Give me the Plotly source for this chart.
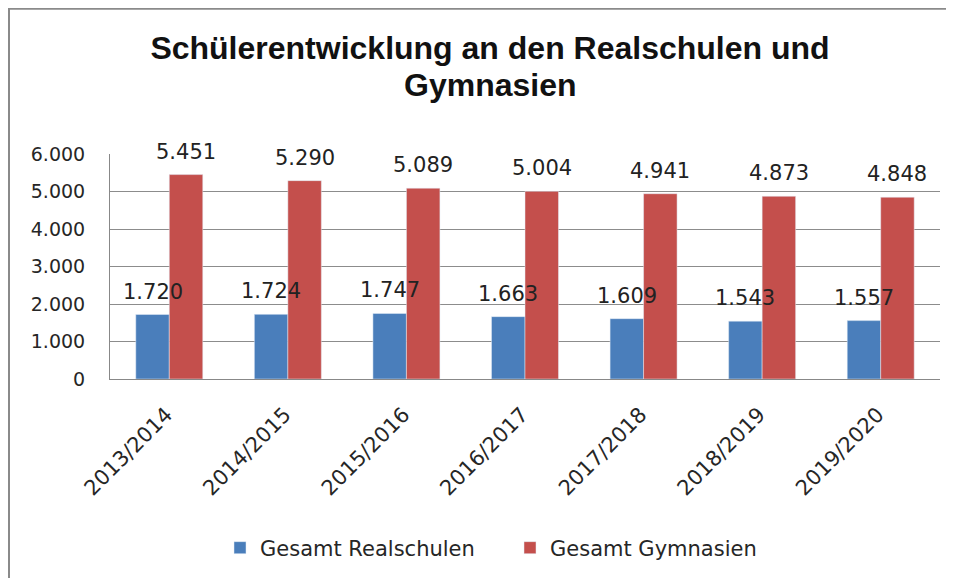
import plotly.graph_objects as go

categories = ["2013/2014", "2014/2015", "2015/2016", "2016/2017", "2017/2018", "2018/2019", "2019/2020"]
realschulen = [1720, 1724, 1747, 1663, 1609, 1543, 1557]
gymnasien = [5451, 5290, 5089, 5004, 4941, 4873, 4848]
series_names = ["Gesamt Realschulen", "Gesamt Gymnasien"]
y_ticks = [0, 1000, 2000, 3000, 4000, 5000, 6000]
title_lines = ["Schülerentwicklung an den Realschulen und", "Gymnasien"]

BLUE = "#4A7EBB"
RED = "#C44F4C"
BARGAP = 0.435
FONT = "DejaVu Sans"
TFONT = dict(family="Liberation Sans", size=32, color="#111111", weight="bold")


def de(v):
    return f"{v:,}".replace(",", ".")


fig = go.Figure()
fig.add_trace(go.Bar(x=categories, y=realschulen, name=series_names[0], marker_color=BLUE))
fig.add_trace(go.Bar(x=categories, y=gymnasien, name=series_names[1], marker_color=RED))

# page body has an 8px margin: figure coords = screen coords - 8
W, H = 946, 570
L, R, T, B = 102, 14, 146, 198
pw, ph = W - L - R, H - T - B


def px(x):
    return (x - L) / pw


def py(y):
    return (H - B - y) / ph


off = (1 - BARGAP) / 4
annotations = []
for i, (r, g) in enumerate(zip(realschulen, gymnasien)):
    for val, dx in ((r, -off), (g, off)):
        annotations.append(dict(
            x=i + dx, y=val, xref="x", yref="y", text=de(val), showarrow=False,
            yanchor="middle", yshift=23, font=dict(family=FONT, size=21, color="#222222")))

# second title line placed separately to match the tighter line spacing
annotations.append(dict(text=title_lines[1], xref="paper", yref="paper",
                        x=px(482), y=py(77), xanchor="center", yanchor="middle",
                        showarrow=False, font=TFONT))

fig.update_layout(
    width=W, height=H,
    margin=dict(l=L, r=R, t=T, b=B),
    paper_bgcolor="white", plot_bgcolor="white",
    separators=",.",
    barmode="group", bargap=BARGAP, bargroupgap=0,
    title=dict(text=title_lines[0],
               x=482 / W, xanchor="center", y=1 - 40 / H, yanchor="middle",
               font=TFONT),
    xaxis=dict(type="category", tickangle=-45, showgrid=False, showline=True,
               linecolor="#888888", linewidth=1, ticks="",
               ticklabelstandoff=14, ticklabelshift=-3,
               tickfont=dict(family=FONT, size=21, color="#262626")),
    yaxis=dict(range=[0, 6000], tickvals=y_ticks, tickformat=",d", showgrid=True,
               gridcolor="#8c8c8c", gridwidth=1, showline=True, linecolor="#888888",
               linewidth=1, ticks="", zeroline=False, ticklabelstandoff=20,
               tickfont=dict(family=FONT, size=19, color="#262626")),
    legend=dict(orientation="h", x=px(502), xanchor="center", y=py(540), yanchor="middle",
                font=dict(family=FONT, size=21, color="#262626"), itemwidth=30,
                entrywidth=245),
    annotations=annotations,
    shapes=[dict(type="rect", xref="paper", yref="paper",
                 x0=px(1), x1=px(W + 10), y0=py(0), y1=py(H + 10),
                 line=dict(color="#8a8a8a", width=2), fillcolor="rgba(0,0,0,0)")],
)

fig.write_html("out.html")
